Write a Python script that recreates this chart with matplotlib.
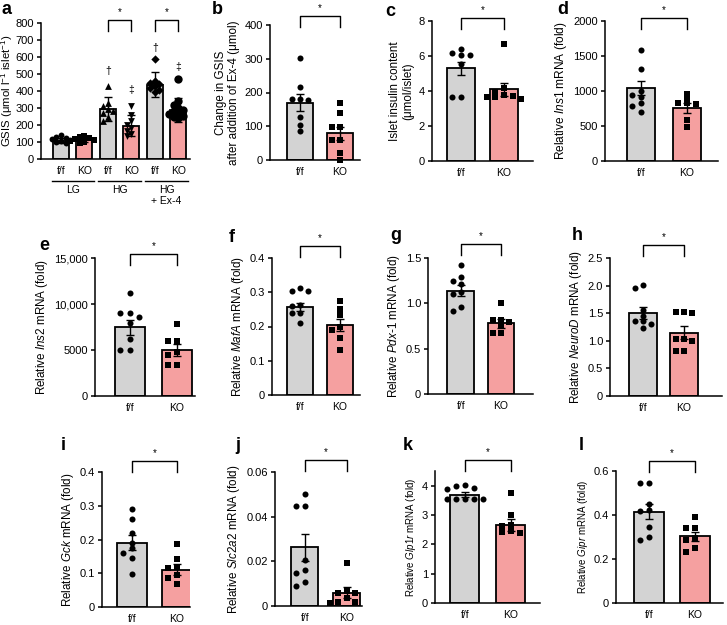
import numpy as np
import matplotlib
matplotlib.use('Agg')
import matplotlib.pyplot as plt

plt.rcParams['font.family'] = ['Liberation Sans', 'DejaVu Sans']
plt.rcParams['mathtext.fontset'] = 'custom'
plt.rcParams['mathtext.rm'] = 'Liberation Sans'
plt.rcParams['mathtext.it'] = 'Liberation Sans:italic'

GRAY = '#d3d3d3'
PINK = '#f5a0a0'

# ---- data ----
groups = ['f/f', 'KO']

# panel a: GSIS
a_labels = ['f/f', 'KO', 'f/f', 'KO', 'f/f', 'KO']
a_conditions = ['LG', 'HG', 'HG\n+ Ex-4']
a_means = [108, 115, 294, 196, 438, 290]
a_err = [14, 14, 68, 60, 72, 70]
a_points = [
    [140, 132, 125, 118, 112, 105, 100, 95],
    [135, 128, 122, 118, 112, 108, 102, 96],
    [428, 330, 312, 295, 285, 268, 250, 225],
    [310, 260, 225, 200, 185, 165, 150, 135],
    [587, 460, 450, 440, 430, 415, 405, 395],
    [470, 340, 315, 300, 290, 280, 270, 262, 255, 248, 240],
]
a_marks = ['†', '‡', '†', '‡']
a_mark_y = [520, 405, 655, 540]
a_yticks = [0, 100, 200, 300, 400, 500, 600, 700, 800]

b_ff = [303, 217, 180, 180, 178, 128, 104, 87]
b_ko = [168, 138, 97, 97, 60, 60, 20, 0]
b_means, b_err = [170, 79], [25, 20]

c_ff = [6.41, 6.2, 6.05, 6.05, 5.57, 3.67, 3.67]
c_ko = [6.71, 4.2, 3.95, 3.76, 3.72, 3.65, 3.65, 3.52]
c_means, c_err = [5.3, 4.1], [0.38, 0.38]

d_ff = [1590, 1316, 1000, 950, 917, 822, 790, 703]
d_ko = [964, 893, 830, 822, 810, 584, 480]
d_means, d_err = [1045, 755], [105, 70]

e_ff = [11176, 8993, 8993, 8630, 7900, 6150, 4950, 4950]
e_ko = [7827, 5970, 5970, 4805, 4500, 3349, 3349]
e_means, e_err = [7450, 5000], [850, 640]

f_ff = [0.312, 0.305, 0.305, 0.263, 0.26, 0.239, 0.239, 0.21]
f_ko = [0.273, 0.25, 0.234, 0.2, 0.19, 0.166, 0.132]
f_means, f_err = [0.257, 0.205], [0.013, 0.018]

g_ff = [1.426, 1.286, 1.25, 1.21, 1.12, 1.10, 0.955, 0.91]
g_ko = [1.0, 0.82, 0.818, 0.79, 0.76, 0.67, 0.67]
g_means, g_err = [1.14, 0.78], [0.06, 0.05]

h_ff = [2.01, 1.96, 1.55, 1.45, 1.35, 1.35, 1.3, 1.24]
h_ko = [1.52, 1.52, 1.5, 1.04, 1.04, 1.0, 0.81, 0.81]
h_means, h_err = [1.51, 1.15], [0.11, 0.12]

i_ff = [0.291, 0.26, 0.22, 0.19, 0.174, 0.16, 0.144, 0.099]
i_ko = [0.187, 0.142, 0.119, 0.115, 0.094, 0.085, 0.068]
i_means, i_err = [0.19, 0.111], [0.022, 0.015]

j_ff = [0.0501, 0.0449, 0.0449, 0.0206, 0.0159, 0.0147, 0.0106, 0.0090]
j_ko = [0.0192, 0.0065, 0.006, 0.006, 0.0035, 0.0019, 0.0019, 0.0015]
j_means, j_err = [0.0262, 0.006], [0.006, 0.0024]

k_ff = [4.03, 4.0, 3.92, 3.9, 3.56, 3.54, 3.54, 3.55, 3.53]
k_ko = [3.75, 3.0, 2.66, 2.62, 2.45, 2.4, 2.42]
k_means, k_err = [3.69, 2.66], [0.09, 0.2]

l_ff = [0.544, 0.544, 0.448, 0.425, 0.42, 0.346, 0.298, 0.286]
l_ko = [0.389, 0.339, 0.339, 0.295, 0.286, 0.248, 0.232]
l_means, l_err = [0.415, 0.303], [0.035, 0.02]

W, H = 727, 625
fig = plt.figure(figsize=(W / 100, H / 100), dpi=100)


def add_ax(x0, x1, ytop, ybot):
    ax = fig.add_axes([x0 / W, 1 - ybot / H, (x1 - x0) / W, (ybot - ytop) / H])
    for s in ['top', 'right']:
        ax.spines[s].set_visible(False)
    for s in ['left', 'bottom']:
        ax.spines[s].set_linewidth(1.1)
    ax.tick_params(axis='y', length=3, width=1.1, labelsize=8, pad=2)
    ax.tick_params(axis='x', length=0, labelsize=7.5, pad=5)
    return ax


def swarm(vals, center, dx, ythr):
    vals = np.asarray(vals, float)
    xs = np.zeros(len(vals))
    placed = []
    for idx in np.argsort(vals)[::-1]:
        for k in [0, -1, 1, -2, 2, -3, 3]:
            x = center + k * dx
            if all(abs(x - px) > dx * 0.9 or abs(vals[idx] - py) > ythr for px, py in placed):
                break
        xs[idx] = x
        placed.append((x, vals[idx]))
    return xs


def bracket(ax, x0, x1, px_above, star_size=7):
    hpx = ax.get_position().height * H
    top = 1 + px_above / hpx
    leg = 11 / hpx
    tr = ax.get_xaxis_transform()
    ax.plot([x0, x0, x1, x1], [top - leg, top, top, top - leg], color='black',
            lw=1.0, transform=tr, clip_on=False)
    ax.text((x0 + x1) / 2, top + 3 / hpx, '*', transform=tr, ha='center', va='bottom',
            fontsize=star_size)


def bar_panel(ax, means, err, pts, markers, ylim, yticks, yticklabels, xlim, width,
              dx, ythr, ms):
    x = np.arange(len(means))
    colors = [GRAY if i % 2 == 0 else PINK for i in range(len(means))]
    ax.bar(x, means, width=width, color=colors, edgecolor='black', linewidth=1.3, zorder=1)
    for i, p in enumerate(pts):
        xs = swarm(p, x[i], dx, ythr)
        ax.scatter(xs, p, marker=markers[i], s=ms[i], color='black', zorder=3,
                   linewidths=0, clip_on=False)
    ax.errorbar(x, means, yerr=err, fmt='none', ecolor='black', elinewidth=1.0,
                capsize=3, capthick=1.0, zorder=4)
    ax.set_xlim(*xlim)
    ax.set_ylim(*ylim)
    ax.set_yticks(yticks)
    ax.set_yticklabels(yticklabels)
    ax.set_xticks(x)
    return x


def letter(xpx, ypx, s):
    fig.text(xpx / W, 1 - ypx / H, s, fontsize=13, fontweight='bold', ha='left', va='center')


# ---- panel a ----
ax = add_ax(41, 190, 23, 159)
x = bar_panel(ax, a_means, a_err, a_points, ['o', 's', '^', 'v', 'D', 'o'],
              (0, 800), a_yticks, [str(t) for t in a_yticks], (-0.85, 5.5), 0.68,
              0.2, 28, [18, 18, 24, 24, 18, 36])
ax.set_xticklabels(a_labels)
ax.set_ylabel('GSIS (μmol l$^{-1}$ islet$^{-1}$)', fontsize=8.2, labelpad=0.5)
for k, (m, my) in enumerate(zip(a_marks, a_mark_y)):
    ax.text(x[k + 2], my, m, ha='center', va='center', fontsize=7.5)
bracket(ax, x[2], x[3], 3)
bracket(ax, x[4], x[5], 3)
for c in range(3):
    xa, xb = x[2 * c] - 0.4, x[2 * c + 1] + 0.4
    ax.plot([xa, xb], [-0.16, -0.16], color='black', lw=1.0,
            transform=ax.get_xaxis_transform(), clip_on=False)
    ax.text((xa + xb) / 2, -0.19, a_conditions[c], transform=ax.get_xaxis_transform(),
            ha='center', va='top', fontsize=7.5, linespacing=1.2)
letter(2, 9, 'a')

# ---- two-bar panels ----
panels = [
    # letter, data, axis box, ylim, ticks, labels, ylabel, label size, xlim, width, bracket px, letter pos
    ('b', b_ff, b_ko, b_means, b_err, (270, 360, 25, 160), (0, 400), [0, 100, 200, 300, 400],
     ['0', '100', '200', '300', '400'], 'Change in GSIS\nafter addition of Ex-4 (μmol)', 8.4,
     (-0.75, 1.5), 0.65, 9, (212, 9)),
    ('c', c_ff, c_ko, c_means, c_err, (432, 533, 21, 161), (0, 8), [0, 2, 4, 6, 8],
     ['0', '2', '4', '6', '8'], 'Islet insulin content\n(μmol/islet)', 8.4,
     (-0.67, 1.67), 0.65, 3, (385, 11)),
    ('d', d_ff, d_ko, d_means, d_err, (605, 718, 21, 161), (0, 2000), [0, 500, 1000, 1500, 2000],
     ['0', '500', '1000', '1500', '2000'], r'Relative $\mathit{Ins1}$ mRNA (fold)', 8.6,
     (-0.78, 1.67), 0.61, 3, (557, 9)),
    ('e', e_ff, e_ko, e_means, e_err, (95, 195, 258, 396), (0, 15000), [0, 5000, 10000, 15000],
     ['0', '5000', '10,000', '15,000'], r'Relative $\mathit{Ins2}$ mRNA (fold)', 8.4,
     (-0.74, 1.38), 0.62, 4, (39, 246)),
    ('f', f_ff, f_ko, f_means, f_err, (272, 360, 258, 395), (0, 0.4), [0, 0.1, 0.2, 0.3, 0.4],
     ['0', '0.1', '0.2', '0.3', '0.4'], r'Relative $\mathit{MafA}$ mRNA (fold)', 8.4,
     (-0.7, 1.5), 0.67, 12, (229, 238)),
    ('g', g_ff, g_ko, g_means, g_err, (428, 533, 258, 394), (0, 1.5), [0, 0.5, 1.0, 1.5],
     ['0', '0.5', '1.0', '1.5'], r'Relative $\mathit{Pdx}$-$\mathit{1}$ mRNA (fold)', 8.4,
     (-0.82, 1.8), 0.67, 14, (390, 236)),
    ('h', h_ff, h_ko, h_means, h_err, (610, 722, 258, 396), (0, 2.5), [0, 0.5, 1.0, 1.5, 2.0, 2.5],
     ['0', '0.5', '1.0', '1.5', '2.0', '2.5'], r'Relative $\mathit{NeuroD}$ mRNA (fold)', 8.4,
     (-0.8, 1.93), 0.68, 13, (572, 236)),
    ('i', i_ff, i_ko, i_means, i_err, (102, 190, 472, 607), (0, 0.4), [0, 0.1, 0.2, 0.3, 0.4],
     ['0', '0.1', '0.2', '0.3', '0.4'], r'Relative $\mathit{Gck}$ mRNA (fold)', 8.4,
     (-0.67, 1.29), 0.67, 11, (61, 446)),
    ('j', j_ff, j_ko, j_means, j_err, (275, 362, 472, 606), (0, 0.06), [0, 0.02, 0.04, 0.06],
     ['0', '0.02', '0.04', '0.06'], r'Relative $\mathit{Slc2a2}$ mRNA (fold)', 8.4,
     (-0.71, 1.36), 0.64, 12, (235, 446)),
    ('k', k_ff, k_ko, k_means, k_err, (435, 540, 471, 603), (0, 4.5), [0, 1, 2, 3, 4],
     ['0', '1', '2', '3', '4'], r'Relative $\mathit{Glp1r}$ mRNA (fold)', 7,
     (-0.65, 1.63), 0.63, 11, (403, 446)),
    ('l', l_ff, l_ko, l_means, l_err, (616, 723, 471, 603), (0, 0.6), [0, 0.2, 0.4, 0.6],
     ['0', '0.2', '0.4', '0.6'], r'Relative $\mathit{Gipr}$ mRNA (fold)', 7,
     (-0.72, 1.61), 0.65, 10, (579, 446)),
]

for (lt, ff, ko, means, err, box, ylim, yt, ytl, ylab, lsize, xlim, width,
     bpx, lpos) in panels:
    ax = add_ax(*box)
    x = bar_panel(ax, means, err, [ff, ko], ['o', 's'], ylim, yt, ytl, xlim, width,
                  0.2, ylim[1] * 0.035, [19, 19])
    ax.set_xticklabels(groups)
    ax.set_ylabel(ylab, fontsize=lsize, labelpad=3)
    bracket(ax, x[0], x[1], bpx)
    letter(lpos[0], lpos[1], lt)

fig.savefig('out.png', dpi=100)
